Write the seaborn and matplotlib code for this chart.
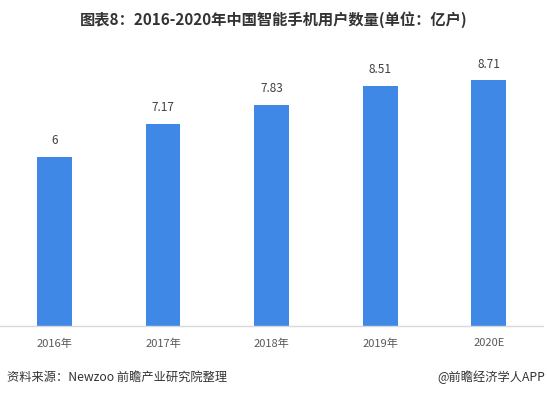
import matplotlib
matplotlib.use("Agg")
import matplotlib.pyplot as plt
import seaborn as sns
import pandas as pd

# 数据
years = ["2016年", "2017年", "2018年", "2019年", "2020E"]
users = [6, 7.17, 7.83, 8.51, 8.71]
value_labels = ["6", "7.17", "7.83", "8.51", "8.71"]

sns.set_style("white")
plt.rcParams['font.family'] = ['Noto Sans CJK SC', 'DejaVu Sans']

df = pd.DataFrame({"year": years, "users": users})

fig = plt.figure(figsize=(5.47, 3.97), dpi=100)
ax = fig.add_axes([0.0, 0.179, 0.993, 0.71])

sns.barplot(data=df, x="year", y="users", color="#3F88E5", width=0.32,
            saturation=1, linewidth=0, ax=ax)

ax.set_ylim(0, 10)
ax.set_xlim(-0.5, 4.5)
ax.set_xlabel("")
ax.set_ylabel("")
ax.set_yticks([])
for s in ["top", "left", "right"]:
    ax.spines[s].set_visible(False)
ax.spines["bottom"].set_color("#d9d9d9")
ax.spines["bottom"].set_linewidth(1)
ax.tick_params(axis="x", length=0, pad=9, labelsize=8, labelcolor="#595959")

# 数据标签
for i, (v, lab) in enumerate(zip(users, value_labels)):
    ax.text(i, v + 0.35, lab, ha="center", va="bottom", fontsize=8.5, color="#404040")

fig.text(0.5, 0.95, "图表8：2016-2020年中国智能手机用户数量(单位：亿户)",
         ha="center", va="center", fontsize=11, fontweight="bold", color="#333333")
fig.text(0.013, 0.05, "资料来源：Newzoo 前瞻产业研究院整理", ha="left", va="center",
         fontsize=8.8, color="#333333")
fig.text(0.997, 0.05, "@前瞻经济学人APP", ha="right", va="center",
         fontsize=8.8, color="#333333")

fig.savefig("out.png", dpi=100)
